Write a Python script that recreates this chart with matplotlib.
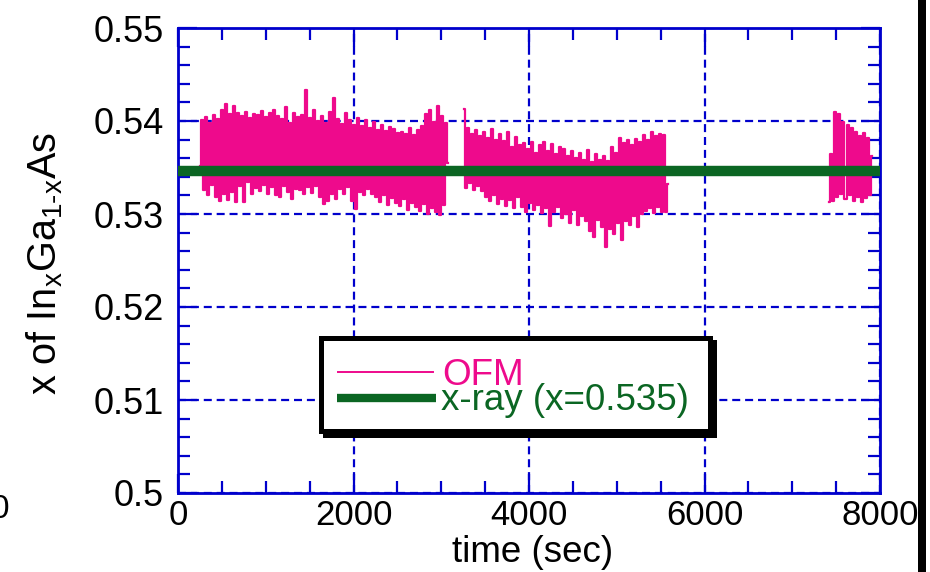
import numpy as np
import matplotlib
matplotlib.use("Agg")
import matplotlib.pyplot as plt
from matplotlib.lines import Line2D
from matplotlib.patches import Rectangle

# ---------------- data ----------------
x_ticks = [0, 2000, 4000, 6000, 8000]
x_tick_labels = ["0", "2000", "4000", "6000", "8000"]
y_ticks = [0.50, 0.51, 0.52, 0.53, 0.54, 0.55]
y_tick_labels = ["0.5", "0.51", "0.52", "0.53", "0.54", "0.55"]

xray_value = 0.5346          # level of the green line as drawn
series_names = ["OFM", "x-ray (x=0.535)"]

# OFM segment 1 : 250 s .. 3080 s
seg1_t = (250, 3080)
seg1 = [
    0.5352, 0.5401, 0.5326, 0.5404, 0.5320, 0.5398, 0.5331, 0.5406, 0.5318, 0.5402,
    0.5314, 0.5412, 0.5322, 0.5418, 0.5315, 0.5407, 0.5324, 0.5416, 0.5313, 0.5409,
    0.5330, 0.5405, 0.5313, 0.5410, 0.5334, 0.5403, 0.5322, 0.5408, 0.5328, 0.5406,
    0.5325, 0.5411, 0.5331, 0.5404, 0.5322, 0.5409, 0.5329, 0.5412, 0.5320, 0.5405,
    0.5318, 0.5402, 0.5330, 0.5415, 0.5324, 0.5398, 0.5316, 0.5409, 0.5327, 0.5404,
    0.5326, 0.5406, 0.5321, 0.5433, 0.5329, 0.5403, 0.5323, 0.5412, 0.5330, 0.5400,
    0.5318, 0.5405, 0.5311, 0.5398, 0.5314, 0.5410, 0.5322, 0.5425, 0.5316, 0.5402,
    0.5327, 0.5397, 0.5321, 0.5409, 0.5329, 0.5401, 0.5314, 0.5396, 0.5305, 0.5403,
    0.5324, 0.5395, 0.5320, 0.5401, 0.5327, 0.5392, 0.5322, 0.5399, 0.5318, 0.5390,
    0.5313, 0.5396, 0.5320, 0.5389, 0.5310, 0.5394, 0.5317, 0.5391, 0.5312, 0.5387,
    0.5309, 0.5388, 0.5316, 0.5386, 0.5304, 0.5392, 0.5312, 0.5385, 0.5307, 0.5390,
    0.5303, 0.5395, 0.5311, 0.5408, 0.5300, 0.5412, 0.5306, 0.5399, 0.5302, 0.5416,
    0.5299, 0.5405, 0.5310, 0.5398, 0.5355,
]

# OFM segment 2 : 3260 s .. 5584 s
seg2_t = (3260, 5584)
seg2 = [
    0.5413, 0.5328, 0.5392, 0.5333, 0.5386, 0.5326, 0.5390, 0.5330, 0.5384, 0.5325,
    0.5388, 0.5318, 0.5382, 0.5314, 0.5391, 0.5320, 0.5380, 0.5311, 0.5386, 0.5316,
    0.5378, 0.5309, 0.5388, 0.5315, 0.5372, 0.5306, 0.5383, 0.5318, 0.5374, 0.5308,
    0.5376, 0.5302, 0.5370, 0.5312, 0.5377, 0.5304, 0.5366, 0.5310, 0.5374, 0.5301,
    0.5377, 0.5306, 0.5368, 0.5287, 0.5375, 0.5302, 0.5365, 0.5308, 0.5372, 0.5296,
    0.5370, 0.5300, 0.5362, 0.5290, 0.5368, 0.5304, 0.5360, 0.5288, 0.5366, 0.5298,
    0.5358, 0.5292, 0.5369, 0.5282, 0.5356, 0.5275, 0.5364, 0.5294, 0.5358, 0.5286,
    0.5362, 0.5264, 0.5357, 0.5284, 0.5372, 0.5278, 0.5366, 0.5290, 0.5382, 0.5272,
    0.5376, 0.5292, 0.5380, 0.5288, 0.5374, 0.5298, 0.5381, 0.5286, 0.5377, 0.5300,
    0.5385, 0.5303, 0.5380, 0.5306, 0.5388, 0.5301, 0.5384, 0.5308, 0.5386, 0.5302,
    0.5385, 0.5302, 0.5332,
]

# OFM segment 3 : 7420 s .. 7910 s
seg3_t = (7420, 7910)
seg3 = [
    0.5313, 0.5365, 0.5314, 0.5410, 0.5318, 0.5408, 0.5322, 0.5399, 0.5316, 0.5396,
    0.5320, 0.5392, 0.5314, 0.5388, 0.5318, 0.5384, 0.5313, 0.5387, 0.5317, 0.5382,
    0.5320, 0.5362,
]

# ---------------- styling ----------------
W, H = 930, 572
PINK = "#EE0A8C"
GREEN = "#0B6623"
BLUE = "#0000CC"

plt.rcParams["font.family"] = ["Liberation Sans", "DejaVu Sans"]
plt.rcParams["mathtext.fontset"] = "custom"
plt.rcParams["mathtext.rm"] = "Liberation Sans"
plt.rcParams["mathtext.it"] = "Liberation Sans"

fig = plt.figure(figsize=(W / 100, H / 100), dpi=100)
fig.patch.set_facecolor("white")

def fx(px):
    return px / W

def fy(py):
    return 1 - py / H

ax = fig.add_axes([fx(178), fy(493), fx(880) - fx(178), fy(28) - fy(493)])

for (t0, t1), vals in [(seg1_t, seg1), (seg2_t, seg2), (seg3_t, seg3)]:
    t = np.linspace(t0, t1, len(vals))
    ax.plot(t, vals, color=PINK, lw=1.6, drawstyle="steps-mid", zorder=3)

ax.plot([0, 8000], [xray_value, xray_value], color=GREEN, lw=7.5,
        solid_capstyle="butt", zorder=4, clip_on=False)

ax.set_xlim(0, 8000)
ax.set_ylim(0.5, 0.55)
ax.set_xticks(x_ticks)
ax.set_xticks(np.arange(0, 8001, 500), minor=True)
ax.set_yticks(y_ticks)
ax.set_yticks(np.arange(0.5, 0.5501, 0.002), minor=True)
ax.set_xticklabels(x_tick_labels, fontsize=25)
ax.set_yticklabels(y_tick_labels, fontsize=26)

for s in ax.spines.values():
    s.set_color(BLUE)
    s.set_linewidth(2.0)

ax.tick_params(which="both", direction="in", top=True, right=True,
               color=BLUE, width=1.6)
ax.tick_params(which="major", length=14)
ax.tick_params(which="minor", length=8.5)
ax.tick_params(axis="y", which="major", pad=10)
ax.tick_params(axis="x", which="major", pad=4)

ax.grid(True, which="major", color=BLUE, lw=1.6, linestyle=(0, (3.6, 2.2)), zorder=1)
ax.set_axisbelow(True)

# axis labels
fig.text(fx(533), fy(562), "time (sec)", fontsize=26.5, ha="center", va="baseline")
fig.text(fx(45), fy(264), r"$\mathregular{x\ of\ In_{x}Ga_{1\text{-}x}As}$",
         fontsize=28.5, rotation=90, ha="center", va="center")

# legend box with shadow
fig.add_artist(Rectangle((fx(323), fy(438)), fx(717) - fx(323), fy(340) - fy(438),
                         transform=fig.transFigure, facecolor="black",
                         edgecolor="none", zorder=10))
fig.add_artist(Rectangle((fx(320.5), fy(430.5)), fx(709.5) - fx(320.5),
                         fy(337.5) - fy(430.5), transform=fig.transFigure,
                         facecolor="white", edgecolor="black", lw=3.6, zorder=11))
fig.add_artist(Line2D([fx(338), fx(433)], [fy(372), fy(372)], transform=fig.transFigure,
                      color=PINK, lw=1.4, zorder=12))
fig.add_artist(Line2D([fx(337), fx(436)], [fy(398), fy(398)], transform=fig.transFigure,
                      color=GREEN, lw=6, solid_capstyle="butt", zorder=12))
fig.text(fx(442), fy(385), series_names[0], color=PINK, fontsize=26.5,
         ha="left", va="baseline", zorder=12)
fig.text(fx(441), fy(410), series_names[1], color=GREEN, fontsize=26.5,
         ha="left", va="baseline", zorder=12)

# page decorations cropped from the source
fig.add_artist(Rectangle((fx(918), 0), fx(8), 1, transform=fig.transFigure,
                         facecolor="black", edgecolor="none"))
fig.text(fx(-9), fy(509), "0", fontsize=24, ha="left", va="center")

fig.savefig("out.png", dpi=100)
